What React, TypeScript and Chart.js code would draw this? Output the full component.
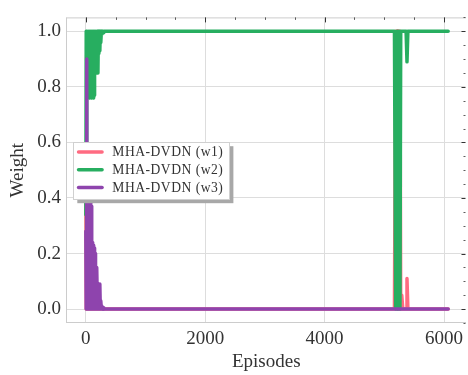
import React, { useEffect, useRef } from 'react';
import { Chart, registerables } from 'chart.js';

Chart.register(...registerables);

// ---- data ----
const episodes = [
  0, 6, 12, 18, 26, 34, 42, 50, 58, 66, 74, 82, 90, 98, 106, 114, 122, 130, 138, 146,
  154, 162, 170, 178, 186, 194, 202, 210, 218, 226, 234, 242, 250, 260, 270, 280, 290, 300,
  5170, 5190, 5202, 5214, 5226, 5238, 5250, 5262, 5275, 5292, 5310, 5365, 5380, 5395, 6070,
];
const w1 = [
  0.38, 0, 0.02, 0, 0.10, 0, 0.08, 0, 0.05, 0, 0.04, 0, 0.02, 0, 0, 0, 0, 0, 0, 0,
  0, 0, 0, 0, 0, 0, 0, 0, 0, 0, 0, 0, 0, 0, 0, 0, 0, 0,
  0, 1, 0, 1, 0, 1, 0, 1, 0, 0.05, 0, 0, 0.11, 0, 0,
];
const w2 = [
  0.34, 1, 0.08, 1, 0.76, 1, 0.77, 1, 0.76, 1, 0.77, 1, 0.76, 1, 0.77, 1, 0.76, 1, 0.77, 1,
  0.85, 1, 0.85, 1, 0.86, 1, 0.85, 1, 0.92, 1, 0.93, 1, 0.96, 1, 0.99, 1, 0.995, 1,
  1, 0, 1, 0, 1, 0, 1, 0, 1, 1, 1, 1, 0.89, 1, 1,
];
const w3 = [
  0.28, 0, 0.9, 0, 0.39, 0, 0.38, 0, 0.36, 0, 0.39, 0, 0.37, 0, 0.24, 0, 0.23, 0, 0.22, 0,
  0.2, 0, 0.15, 0, 0.15, 0, 0.09, 0, 0.09, 0, 0.09, 0, 0.03, 0, 0.01, 0, 0.005, 0,
  0, 0, 0, 0, 0, 0, 0, 0, 0, 0, 0, 0, 0, 0, 0,
];
const seriesValues = [w1, w2, w3];
const seriesLabels = ['MHA-DVDN (w1)', 'MHA-DVDN (w2)', 'MHA-DVDN (w3)'];
const seriesColors = ['#ff6b81', '#27ae60', '#8e44ad'];
const xTickValues = [0, 2000, 4000, 6000];
const yTickValues = [0, 0.2, 0.4, 0.6, 0.8, 1.0];
const xMinorStep = 500;
const yMinorStep = 0.05;
const xLimits = [-316, 6360];
const yLimits = [-0.05, 1.05];
const xTitle = 'Episodes';
const yTitle = 'Weight';

const FONT = '"Liberation Serif", "Times New Roman", serif';
const TEXT = '#333333';

const framePlugin = {
  id: 'frameAndLegend',
  afterDatasetsDraw(chart: any) {
    const { ctx, chartArea: a, scales } = chart;
    const xs = scales.x;
    const ys = scales.y;
    ctx.save();
    // spines
    ctx.strokeStyle = '#cccccc';
    ctx.lineWidth = 1;
    ctx.beginPath();
    ctx.moveTo(a.left - 0.5, a.top + 0.5);
    ctx.lineTo(a.right + 0.5, a.top + 0.5);
    ctx.moveTo(a.left - 0.5, a.top);
    ctx.lineTo(a.left - 0.5, a.bottom);
    ctx.moveTo(a.left - 0.5, a.bottom - 0.5);
    ctx.lineTo(a.right + 0.5, a.bottom - 0.5);
    ctx.stroke();

    // mirrored inward ticks on top and right
    ctx.strokeStyle = '#333333';
    const startX = Math.ceil(xs.min / xMinorStep) * xMinorStep;
    for (let v = startX; v <= xs.max; v += xMinorStep) {
      const px = Math.round(xs.getPixelForValue(v)) + 0.5;
      const major = xTickValues.includes(v);
      ctx.lineWidth = major ? 1 : 0.8;
      ctx.beginPath();
      ctx.moveTo(px, a.top);
      ctx.lineTo(px, a.top + (major ? 5 : 2.5));
      ctx.stroke();
    }
    const nY = Math.round((ys.max - ys.min) / yMinorStep) + 1;
    for (let k = 0; k < nY; k++) {
      const v = Math.round((Math.ceil(ys.min / yMinorStep) + k) * yMinorStep * 100) / 100;
      if (v > ys.max) break;
      const py = Math.round(ys.getPixelForValue(v)) + 0.5;
      const major = yTickValues.some((t) => Math.abs(t - v) < 1e-6);
      ctx.lineWidth = major ? 1 : 0.8;
      ctx.beginPath();
      ctx.moveTo(a.right, py);
      ctx.lineTo(a.right - (major ? 4 : 2), py);
      ctx.stroke();
    }

    // legend
    const fs = 13.6;
    ctx.font = `${fs}px ${FONT}`;
    try {
      (ctx as any).letterSpacing = '0.5px';
    } catch (e) {
      /* ignore */
    }
    const labels = chart.data.datasets.map((d: any) => d.label);
    const colors = chart.data.datasets.map((d: any) => d.borderColor);
    const textW = Math.max(...labels.map((l: string) => ctx.measureText(l).width));
    const padL = 3.5, lineLen = 27, gap = 8.5, padR = 6, rowH = 17.8;
    const boxW = padL + lineLen + gap + textW + padR;
    const boxH = 57;
    const bx = a.left + 6.3;
    const by = (a.top + a.bottom) / 2 - boxH / 2 + 0.5;
    ctx.fillStyle = '#a8a8a8';
    ctx.fillRect(bx + 4, by + 4, boxW, boxH);
    ctx.fillStyle = '#ffffff';
    ctx.fillRect(bx, by, boxW, boxH);
    ctx.strokeStyle = '#d0d0d0';
    ctx.lineWidth = 1;
    ctx.strokeRect(Math.round(bx) + 0.5, Math.round(by) + 0.5, Math.round(boxW), Math.round(boxH));
    labels.forEach((l: string, i: number) => {
      const cy = by + 9.7 + i * rowH;
      ctx.strokeStyle = colors[i];
      ctx.lineWidth = 3.5;
      ctx.lineCap = 'round';
      ctx.beginPath();
      ctx.moveTo(bx + padL + 1.75, cy);
      ctx.lineTo(bx + padL + lineLen - 1.75, cy);
      ctx.stroke();
      ctx.fillStyle = TEXT;
      ctx.textBaseline = 'middle';
      ctx.textAlign = 'left';
      ctx.fillText(l, bx + padL + lineLen + gap, cy + 0.5);
    });
    ctx.restore();
  },
};

export default function App() {
  const ref = useRef<HTMLCanvasElement | null>(null);
  useEffect(() => {
    if (!ref.current) return;
    const chart = new Chart(ref.current, {
      type: 'line',
      data: {
        datasets: seriesLabels.map((label, i) => ({
          label,
          data: episodes.map((e, j) => ({ x: e, y: seriesValues[i][j] })),
          borderColor: seriesColors[i],
          backgroundColor: seriesColors[i],
          borderWidth: 3.5,
          pointRadius: 0,
          fill: false,
          tension: 0,
          order: 3 - i,
          borderCapStyle: 'round',
          borderJoinStyle: 'round',
        })),
      },
      options: {
        responsive: false,
        animation: false,
        devicePixelRatio: 1,
        layout: { padding: { top: 5, right: 0, left: 0, bottom: 0 } },
        plugins: { legend: { display: false }, tooltip: { enabled: false } },
        scales: {
          x: {
            type: 'linear',
            min: xLimits[0],
            max: xLimits[1],
            afterBuildTicks: (s: any) => {
              s.ticks = xTickValues.map((v) => ({ value: v }));
            },
            afterFit: (s: any) => {
              s.height = 52;
            },
            grid: { color: '#dddddd', lineWidth: 1, drawTicks: false },
            border: { display: false },
            ticks: {
              padding: 5,
              color: TEXT,
              font: { size: 19, family: FONT },
              maxRotation: 0,
              autoSkip: false,
              callback: (v: any) => String(v),
            },
            title: {
              display: true,
              text: xTitle,
              color: TEXT,
              font: { size: 19, family: FONT },
              padding: { top: 0, bottom: 2 },
            },
          },
          y: {
            type: 'linear',
            min: yLimits[0],
            max: yLimits[1],
            afterBuildTicks: (s: any) => {
              s.ticks = yTickValues.map((v) => ({ value: v }));
            },
            afterFit: (s: any) => {
              s.width = 67;
            },
            grid: { color: '#dddddd', lineWidth: 1, drawTicks: false },
            border: { display: false },
            ticks: {
              padding: 6,
              color: TEXT,
              font: { size: 19, family: FONT },
              callback: (v: any) => Number(v).toFixed(1),
            },
            title: {
              display: true,
              text: yTitle,
              color: TEXT,
              font: { size: 19, family: FONT },
              padding: { top: 7, bottom: 0 },
            },
          },
        },
      },
      plugins: [framePlugin],
    } as any);
    return () => chart.destroy();
  }, []);
  return (
    <div style={{ position: 'absolute', left: 0, top: 0, width: 468, height: 375, background: '#fff' }}>
      <canvas ref={ref} width={468} height={375} style={{ display: 'block', width: 468, height: 375 }} />
    </div>
  );
}
